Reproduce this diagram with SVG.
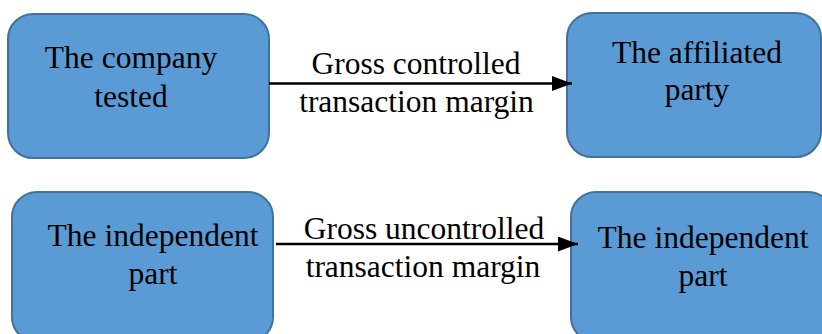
<svg xmlns="http://www.w3.org/2000/svg" width="822" height="334" viewBox="0 0 822 334">
<style>
.box{fill:#5B9BD5;stroke:#41719C;stroke-width:2}
.t{font-family:"Liberation Serif","Times New Roman",serif;font-size:31.5px;fill:#000;text-anchor:middle}
.c{stroke:#000;stroke-width:2.5;fill:none}
</style>
<defs>
<marker id="ah" markerWidth="8" markerHeight="6" refX="8" refY="3" orient="auto" markerUnits="strokeWidth">
<path d="M0,0 L8,3 L0,6 Z" fill="#000"/>
</marker>
</defs>
<rect width="822" height="334" fill="#fff"/>
<g id="n1">
<rect class="box" x="8" y="14" width="261" height="144" rx="25"/>
<text class="t" x="131" y="68">The company</text>
<text class="t" x="131" y="107">tested</text>
</g>
<g id="n2">
<rect class="box" x="567" y="13" width="254" height="144" rx="25"/>
<text class="t" x="697" y="63">The affiliated</text>
<text class="t" x="697" y="100">party</text>
</g>
<g id="n3">
<rect class="box" x="12" y="192" width="261" height="150" rx="25"/>
<text class="t" x="153" y="246">The independent</text>
<text class="t" x="153" y="284">part</text>
</g>
<g id="n4">
<rect class="box" x="571" y="192" width="262" height="150" rx="25"/>
<text class="t" x="703" y="248">The independent</text>
<text class="t" x="703" y="286">part</text>
</g>
<g id="connectors">
<line class="c" x1="269" y1="83.5" x2="572" y2="83.5" marker-end="url(#ah)"/>
<line class="c" x1="276" y1="244" x2="578" y2="244" marker-end="url(#ah)"/>
</g>
<g id="labels">
<text class="t" x="416" y="74">Gross controlled</text>
<text class="t" x="416.5" y="112">transaction margin</text>
<text class="t" x="424" y="239">Gross uncontrolled</text>
<text class="t" x="423" y="277">transaction margin</text>
</g>
</svg>
